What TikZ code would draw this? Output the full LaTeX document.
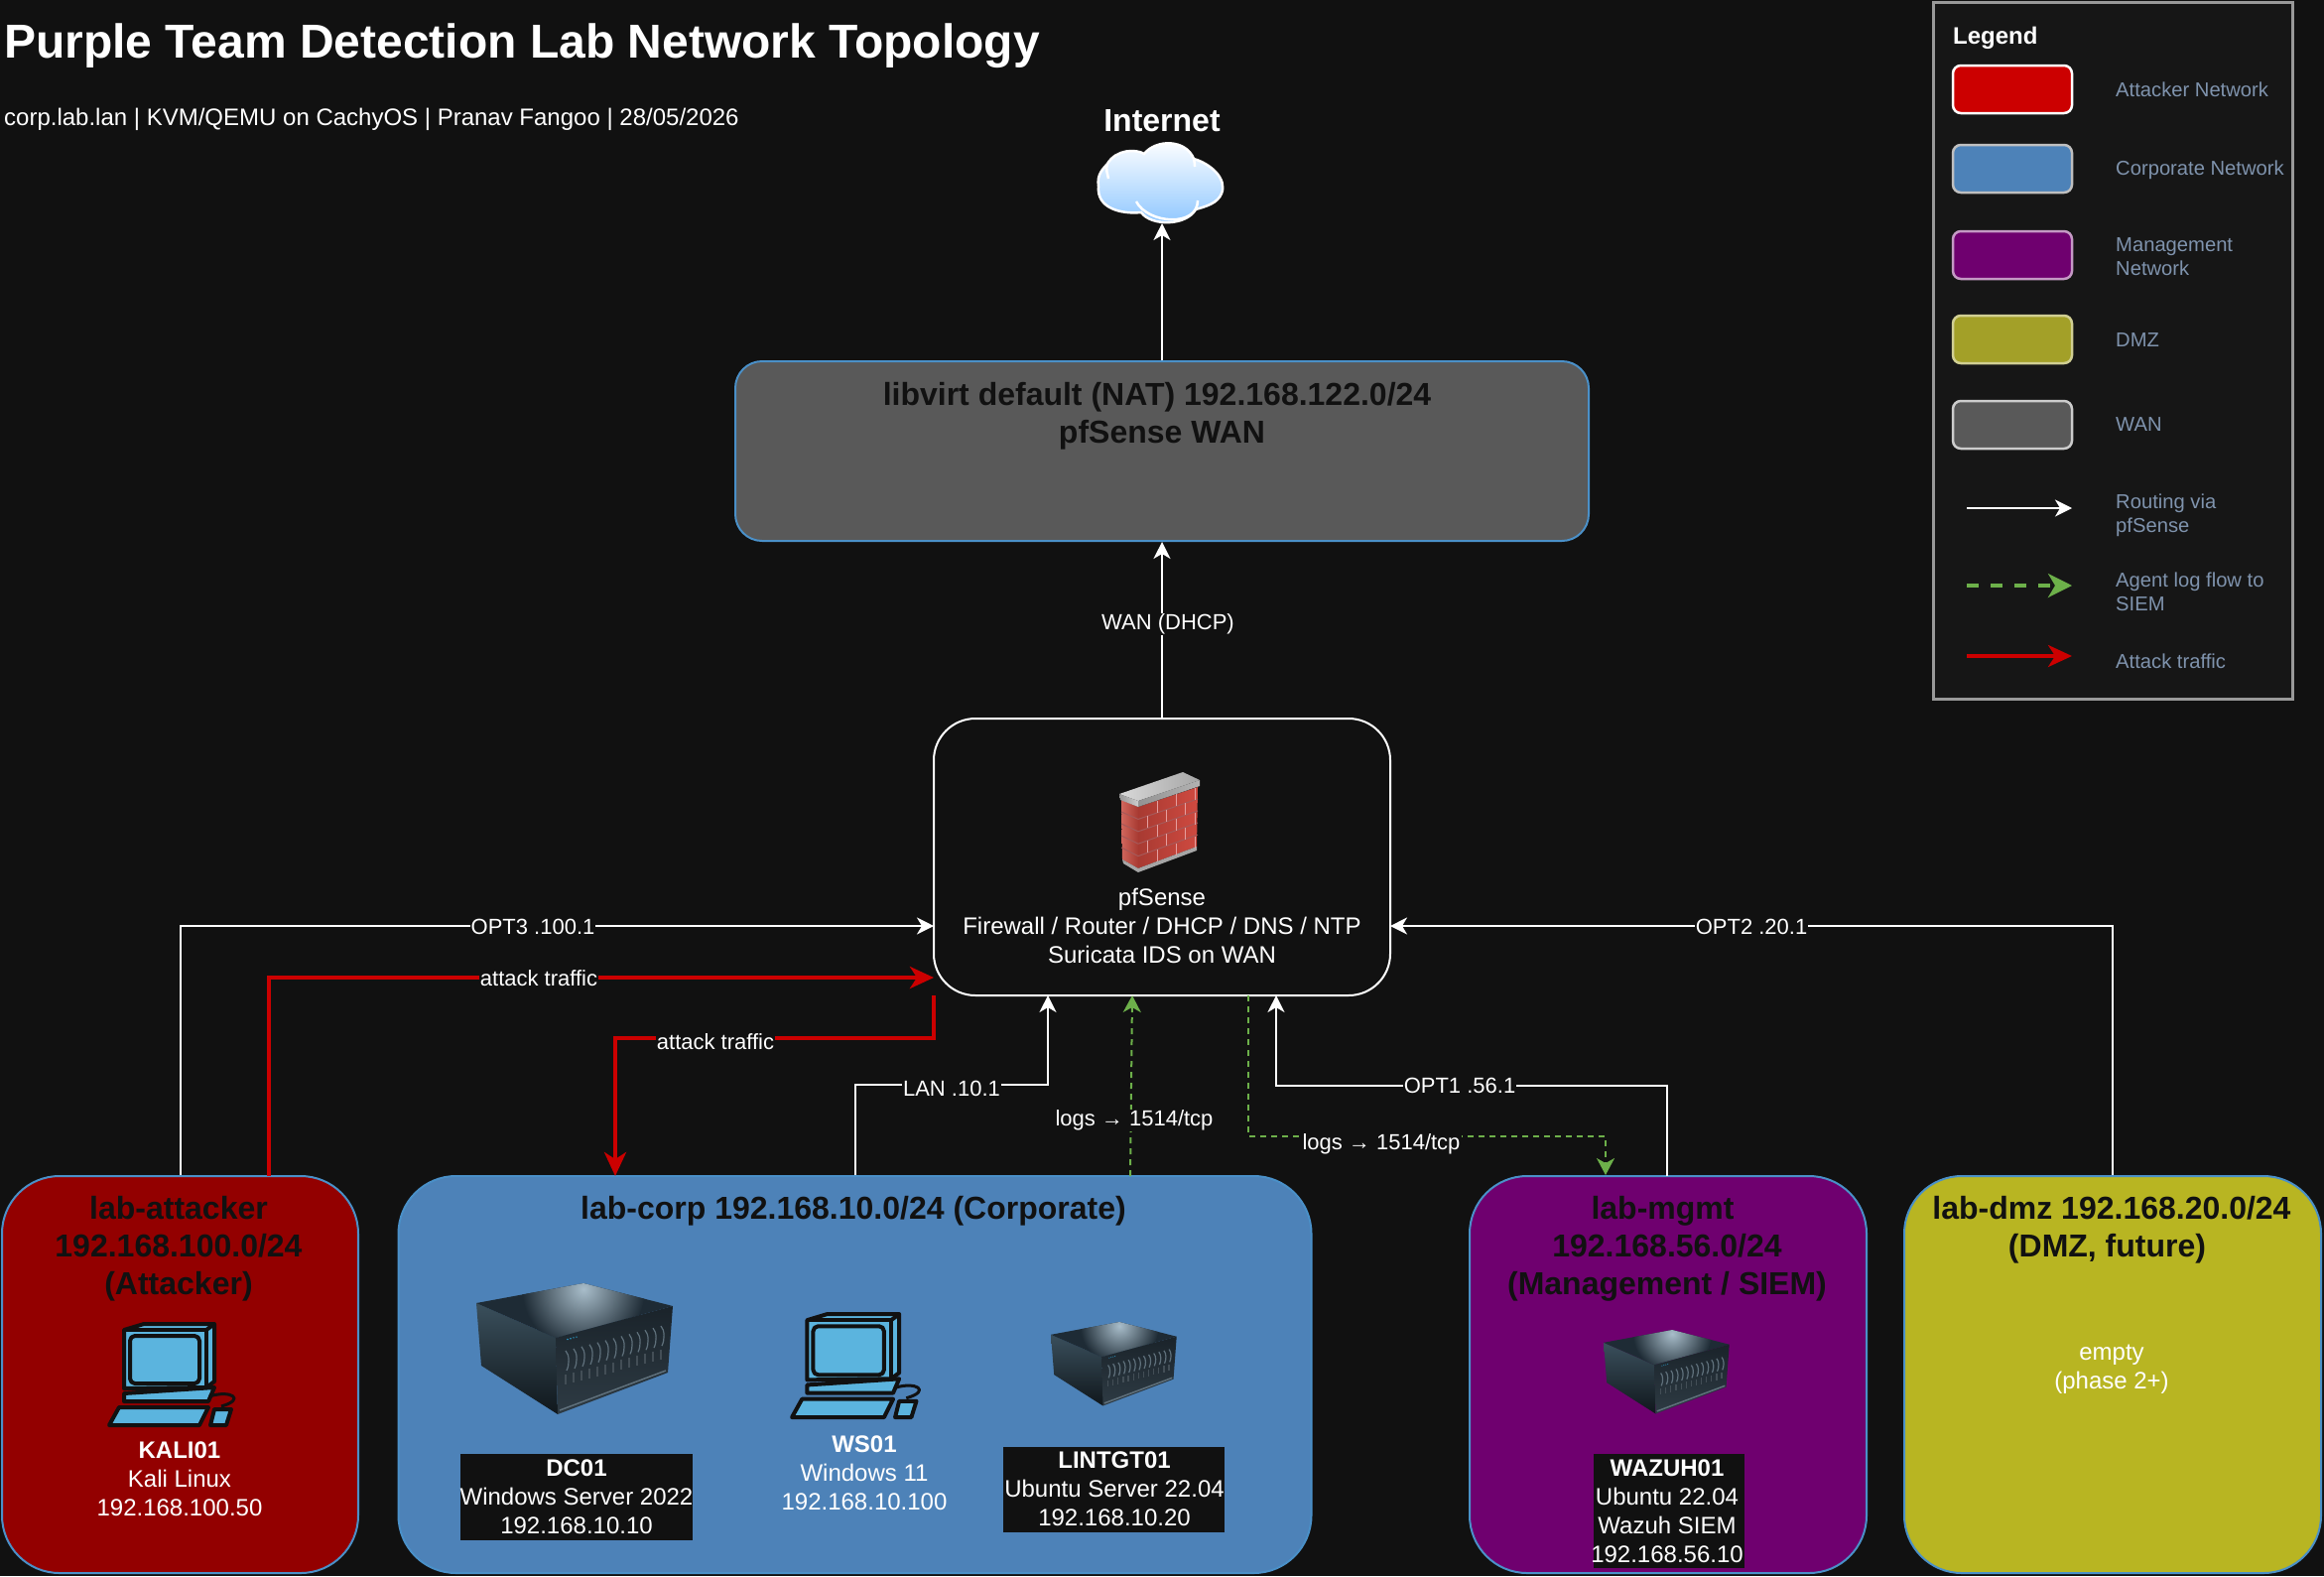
\documentclass[tikz,border=0pt]{standalone}
\usepackage{fontspec}
\setmainfont{Liberation Sans}
\usepackage{tikz}
\usetikzlibrary{arrows.meta}
\definecolor{bgdark}{HTML}{111111}
\definecolor{legendbg}{HTML}{161616}
\definecolor{legendtxt}{HTML}{7F93AD}
\definecolor{attackred}{HTML}{CC0000}
\definecolor{attackbg}{HTML}{930000}
\definecolor{corpblue}{HTML}{4D82B8}
\definecolor{mgmtpurple}{HTML}{6F006F}
\definecolor{dmzolive}{HTML}{B8B522}
\definecolor{dmzswatch}{HTML}{A3A028}
\definecolor{wangrey}{HTML}{595959}
\definecolor{linkblue}{HTML}{4A90C8}
\definecolor{loggreen}{HTML}{6DB04A}
\definecolor{pcblue}{HTML}{5BB4DE}
\definecolor{srvtop}{HTML}{1E2B35}
\definecolor{srvglow}{HTML}{A8BDCA}
\definecolor{srvleft}{HTML}{3A4F5C}
\definecolor{srvlow}{HTML}{10171C}
\definecolor{srvfront}{HTML}{1A232A}
\definecolor{srvfront2}{HTML}{2E3B44}
\definecolor{srvslat}{HTML}{5F707B}
\definecolor{brickdark}{HTML}{A83A32}
\definecolor{bricklite}{HTML}{CF4A40}
\definecolor{brickside}{HTML}{D0665C}
\newcommand{\fs}[2]{\fontsize{#1}{#2}\selectfont}
\tikzset{
  server/.pic={
    \shade [top color=srvleft, bottom color=srvlow] (0,20) -- (80,55) -- (82,132) -- (5,83) -- cycle;
    \fill [srvtop] (0,20) -- (108,0) -- (198,23) -- (80,55) -- cycle;
    \begin{scope}
      \clip (0,20) -- (108,0) -- (198,23) -- (80,55) -- cycle;
      \shade [inner color=srvglow, outer color=srvtop] (108,6) circle (62);
    \end{scope}
    \shade [top color=srvfront, bottom color=srvfront2] (80,55) -- (198,23) -- (193,90) -- (82,132) -- cycle;
    \foreach \i in {0,...,12} {
      \pgfmathsetmacro{\sx}{90+\i*8}
      \pgfmathsetmacro{\sy}{60-\i*8*0.26}
      \draw [srvslat, line width=1.2] (\sx,\sy+8) .. controls (\sx+4,\sy+12) and (\sx+4,\sy+22) .. (\sx+1,\sy+28);
      \draw [srvslat!70!black, line width=1.2] (\sx,\sy+32) -- (\sx,\sy+42);
    }
    \draw [srvslat, line width=1.5] (84,128) -- (191,88);
    \foreach \i in {0,1,2,3}
      \fill [cyan!60!teal] (92+\i*3,56.5-\i*.8) circle (.8);
  },
  desktop/.pic={
    \begin{scope}[draw=bgdark, line width=4, line join=round, fill=pcblue]
      \filldraw (17,8) -- (37,2) -- (108,2) -- (108,60) -- (100,66) -- (17,67) -- cycle;
      \draw (17,8) -- (100,8) -- (100,66);
      \draw (100,8) -- (108,2);
      \draw [rounded corners=5] (23,14) rectangle (93,62);
      \filldraw (17,72) -- (108,66) -- (102,80) -- (17,80) -- cycle;
      \filldraw (2,104) -- (12,86) -- (102,86) -- (93,104) -- cycle;
      \filldraw (104,104) -- (108,88) -- (125,88) -- (120,104) -- cycle;
      \draw [line width=3] (103,75) .. controls (125,68) and (140,78) .. (115,85);
    \end{scope}
  },
  brickwall/.pic={
    \shade [left color=brickside, right color=brickdark] (2,28) -- (19,35) -- (19,97) -- (3,88) -- cycle;
    \shade [left color=brickdark, right color=bricklite] (19,35) -- (79,15) -- (78,75) -- (19,97) -- cycle;
    \fill [gray!70] (3,88) -- (19,97) -- (78,75) -- (78,79) -- (19,101) -- (4,92) -- cycle;
    \foreach \i in {1,2,3,4} {
      \draw [red!30!gray, line width=1] (19,35+\i*12.4) -- (79,15+\i*12);
      \draw [red!30!gray, line width=1] (2,28+\i*12) -- (19,35+\i*12.4);
    }
    \foreach \r in {0,...,4} \foreach \c in {1,2,3} {
      \pgfmathsetmacro{\jx}{19+(\c-mod(\r,2)*.5)*19}
      \pgfmathsetmacro{\jy}{35+\r*12.3-(\jx-19)/3}
      \draw [red!35!white!80!gray, line width=1] (\jx,\jy) -- (\jx,\jy+12);
    }
    \shade [left color=gray!30, right color=gray!70] (0,22) -- (64,0) -- (81,8) -- (19,29) -- cycle;
    \shade [left color=gray!80, right color=gray!40] (0,22) -- (19,29) -- (19,35) -- (1,28) -- cycle;
    \shade [left color=gray!85, right color=gray!60] (19,29) -- (81,8) -- (81,14) -- (19,35) -- cycle;
  },
  cloudicon/.pic={
    \shade [top color=white, bottom color=blue!50!cyan!45!white, draw=white, line width=2.5]
      (0,44) .. controls (-2,31) and (5,26) .. (9,21) .. controls (18,6) and (38,6) .. (46,11)
      .. controls (58,-4) and (88,-4) .. (96,16) .. controls (113,21) and (130,36) .. (124,51)
      .. controls (120,61) and (108,64) .. (98,67) .. controls (88,84) and (53,84) .. (43,70)
      .. controls (23,72) and (-2,66) .. (0,44) -- cycle;
    \draw [white, line width=2.5] (9,21) .. controls (7,27) and (9,30) .. (10,36);
    \draw [white, line width=2.5] (38,59) .. controls (50,82) and (100,85) .. (100,58);
    \draw [white, line width=2.5] (96,16) .. controls (97,20) and (97,24) .. (97,24);
  }
}
\begin{document}
\begin{tikzpicture}
    [
    x=1pt,y=-1pt,
    netgroup/.style={rectangle,draw=linkblue,line width=2,rounded corners=58,inner sep=0pt},
    swatch/.style={rectangle,line width=2.5,rounded corners=8,inner sep=0pt,minimum width=120,minimum height=48},
    grouptitle/.style={align=center,text=bgdark,font=\fs{32}{38}\bfseries},
    bodytext/.style={align=center,text=white,font=\fs{24}{29}},
    blackplate/.style={rectangle,fill=bgdark,inner sep=0pt},
    edgelabel/.style={fill=bgdark,text=white,inner sep=1pt,font=\fs{22}{26}},
    legendtext/.style={anchor=west,align=left,inner sep=0pt,text=legendtxt,font=\fs{20.2}{24}},
    route/.style={white,line width=2,-{Stealth[length=17,width=17,inset=5]}},
    attack/.style={attackred,line width=4,-{Stealth[length=24,width=22,inset=7]}},
    logflow/.style={loggreen,line width=2,dash pattern=on 6pt off 5pt,-{Stealth[length=17,width=18,inset=5]}}
    ]
    \path [use as bounding box,fill=bgdark] (0,0) rectangle (2342,1588);

    \node (title) at (4,46) [anchor=west,inner sep=0pt,text=white,font=\fs{48}{54}\bfseries] {Purple Team Detection Lab Network Topology};
    \node (subtitle) at (4,120) [anchor=west,inner sep=0pt,text=white,font=\fs{24}{29}] {corp.lab.lan | KVM/QEMU on CachyOS | Pranav Fangoo | 28/05/2026};

    \node (legend) at (2129,353) [rectangle,draw=gray!80,line width=3,fill=legendbg,minimum width=362,minimum height=702,inner sep=0pt] {};
    \node (legendtitle) at (1968,38) [anchor=west,inner sep=0pt,text=white,font=\fs{24}{28}\bfseries] {Legend};
    \node (sw1) at (2028,90) [swatch,draw=white,fill=attackred] {};
    \node (sw2) at (2028,170) [swatch,draw=gray!50!white,fill=corpblue] {};
    \node (sw3) at (2028,257) [swatch,draw=mgmtpurple!40!white,fill=mgmtpurple] {};
    \node (sw4) at (2028,342) [swatch,draw=dmzswatch!50!white,fill=dmzswatch] {};
    \node (sw5) at (2028,428) [swatch,draw=gray!40!white,fill=wangrey] {};
    \node (lt1) at (2132,90) [legendtext] {Attacker Network};
    \node (lt2) at (2132,171) [legendtext] {Corporate Network};
    \node (lt3) at (2132,259) [legendtext] {Management\\Network};
    \node (lt4) at (2132,343) [legendtext] {DMZ};
    \node (lt5) at (2132,428) [legendtext] {WAN};
    \node (lt6) at (2132,519) [legendtext] {Routing via\\pfSense};
    \node (lt7) at (2132,596) [legendtext] {Agent log flow to\\SIEM};
    \node (lt8) at (2132,666) [legendtext] {Attack traffic};
    \coordinate (la1) at (1982,512);
    \coordinate (lb1) at (2088,512);
    \coordinate (la2) at (1982,590);
    \coordinate (lb2) at (2088,590);
    \coordinate (la3) at (1982,661);
    \coordinate (lb3) at (2088,661);
    \draw [route] (la1) to (lb1);
    \draw [loggreen,line width=3.5,dash pattern=on 12pt off 12pt,-{Stealth[length=24,width=24,inset=7]}] (la2) to (lb2);
    \draw [attack,line width=3.5] (la3) to (lb3);

    \pic (cloud) at (1107,144) {cloudicon};
    \coordinate (cloudbase) at (1171,225);
    \node (internet) at (1171,122) [inner sep=0pt,text=white,font=\fs{32}{36}\bfseries] {Internet};

    \node (wan) at (1171,454.5) [rectangle,draw=linkblue,line width=2,fill=wangrey,rounded corners=27,minimum width=860,minimum height=181,inner sep=0pt] {};
    \node (wantitle) at (1171,419) [grouptitle] {libvirt default (NAT) 192.168.122.0/24\hspace*{10pt}\\pfSense WAN};

    \node (pf) at (1171,863.5) [rectangle,draw=white,line width=2,fill=bgdark,rounded corners=42,minimum width=460,minimum height=279,inner sep=0pt] {};
    \pic (wallicon) at (1128,778) {brickwall};
    \node (pflabel) at (1171,933) [bodytext] {pfSense\\Firewall / Router / DHCP / DNS / NTP\\Suricata IDS on WAN};

    \node (attacker) at (181.5,1385) [netgroup,fill=attackbg,minimum width=359,minimum height=400] {};
    \node (corp) at (861.5,1385) [netgroup,fill=corpblue,minimum width=920,minimum height=400] {};
    \node (mgmt) at (1681,1385) [netgroup,fill=mgmtpurple,minimum width=400,minimum height=400] {};
    \node (dmz) at (2129,1385) [netgroup,fill=dmzolive,minimum width=420,minimum height=400] {};
    \node (attackertitle) at (180,1258) [grouptitle] {lab-attacker\\192.168.100.0/24\\(Attacker)};
    \node (corptitle) at (860,1220) [grouptitle] {lab-corp 192.168.10.0/24 (Corporate)};
    \node (mgmttitle) at (1680,1258) [grouptitle] {lab-mgmt\hspace*{9pt}\\192.168.56.0/24\\(Management / SIEM)};
    \node (dmztitle) at (2128,1239) [grouptitle] {lab-dmz 192.168.20.0/24\\(DMZ, future)\hspace*{9pt}};
    \node (dmzempty) at (2128,1380) [bodytext] {empty\\(phase 2+)};

    \pic (kaliicon) at (108,1332) {desktop};
    \node (kali) at (181,1490) [bodytext] {\textbf{KALI01}\\Kali Linux\\192.168.100.50};
    \pic (dcicon) at (480,1293) {server};
    \node (dcplate) at (581,1508.5) [blackplate,minimum width=234,minimum height=87] {};
    \node (dc) at (581,1508) [bodytext] {\textbf{DC01}\\Windows Server 2022\\192.168.10.10};
    \pic [scale=1.02] (wsicon) at (796,1322) {desktop};
    \node (ws) at (871,1484) [bodytext] {\textbf{WS01}\\Windows 11\\192.168.10.100};
    \pic [scale=.64] (linicon) at (1059,1332) {server};
    \node (linplate) at (1122.5,1501) [blackplate,minimum width=223,minimum height=86] {};
    \node (lin) at (1123,1500) [bodytext] {\textbf{LINTGT01}\\Ubuntu Server 22.04\\192.168.10.20};
    \pic [scale=.64] (wazicon) at (1616,1340) {server};
    \node (wazplate) at (1682,1522.5) [blackplate,minimum width=152,minimum height=115] {};
    \node (waz) at (1680,1523) [bodytext] {\textbf{WAZUH01}\\Ubuntu 22.04\\Wazuh SIEM\\192.168.56.10};

    \coordinate (pfopt3) at (941,933);
    \coordinate (pfopt2) at (1401,933);
    \coordinate (pfred) at (941,985);
    \coordinate (pfredout) at (941,1003);
    \coordinate (pflan) at (1056,1003);
    \coordinate (pflog) at (1141,1003);
    \coordinate (pflogout) at (1258,1003);
    \coordinate (pfopt1) at (1286,1003);
    \coordinate (atkred) at (271,1185);
    \coordinate (corpred) at (620,1185);
    \coordinate (corplog) at (1139,1185);
    \coordinate (mgmtlog) at (1618,1184);
    \coordinate (mgmtup) at (1680,1185);
    \draw [route] (wan.north) to (cloudbase);
    \draw [route] (pf.north) to (wan.south);
    \draw [route] (attacker.north) |- (pfopt3);
    \draw [route] (dmz.north) |- (pfopt2);
    \draw [attack] (atkred) |- (pfred);
    \draw [attack] (pfredout) -- ++(0,43) -| (corpred);
    \draw [route] (corp.north) -- ++(0,-91) -| (pflan);
    \draw [route] (mgmtup) -- ++(0,-91) -| (pfopt1);
    \draw [logflow] (corplog) to (pflog);
    \draw [logflow] (pflogout) -- ++(0,142) -| (mgmtlog);

    \node (l1) at (1177,629) [edgelabel] {WAN (DHCP)};
    \node (l2) at (537,934) [edgelabel] {OPT3 .100.1};
    \node (l3) at (1765,934) [edgelabel] {OPT2 .20.1};
    \node (l4) at (543,986) [edgelabel] {attack traffic};
    \node (l5) at (721,1050) [edgelabel] {attack traffic};
    \node (l6) at (959,1097) [edgelabel] {LAN .10.1};
    \node (l7) at (1471,1094) [edgelabel] {OPT1 .56.1};
    \node (l8) at (1143,1129) [edgelabel] {logs → 1514/tcp};
    \node (l9) at (1392,1153) [edgelabel] {logs → 1514/tcp};
  \end{tikzpicture}
\end{document}
